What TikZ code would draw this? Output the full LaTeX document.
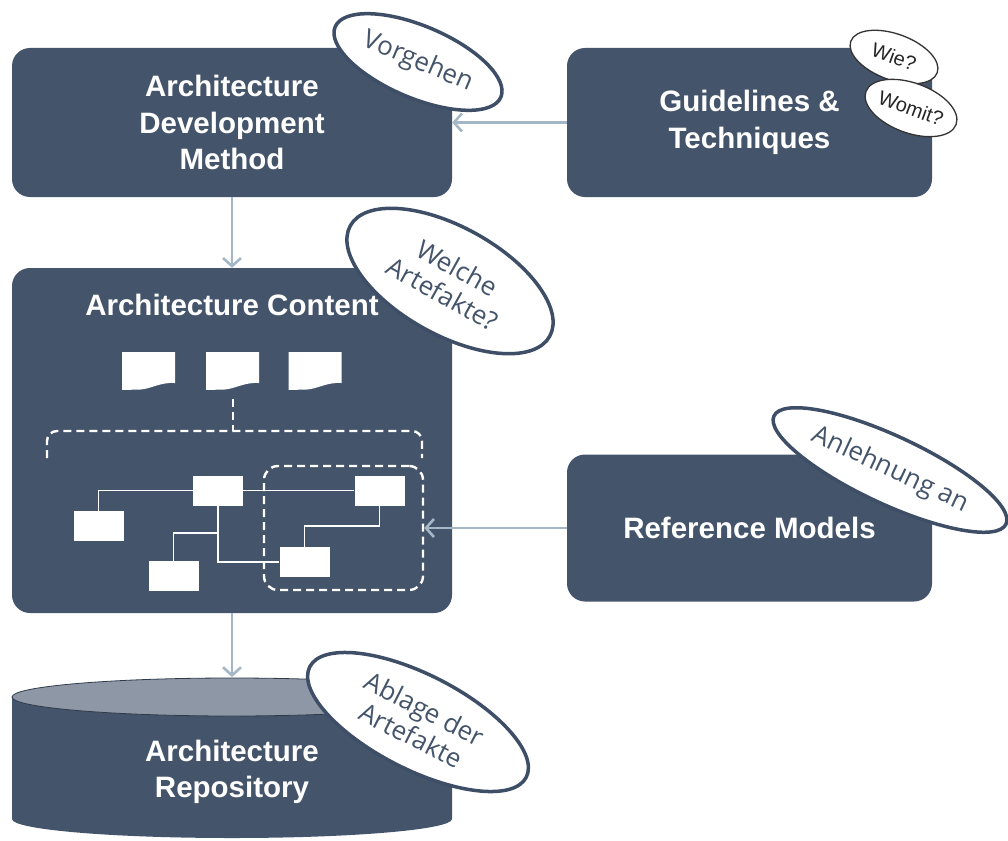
\documentclass[tikz,border=0pt]{standalone}
\usepackage{fontspec}
\setmainfont{Liberation Sans}
\newfontfamily\callfont{Open Sans}
\usetikzlibrary{arrows.meta,shapes.geometric}
\definecolor{slate}{HTML}{44546A}
\definecolor{slatelight}{HTML}{8E97A5}
\definecolor{conncol}{HTML}{A3B7C6}
\definecolor{ovalline}{HTML}{3E4E66}
\begin{document}
\begin{tikzpicture}[x=1pt,y=-1pt,
  box/.style={fill=slate, rounded corners=18pt, text=white, font=\bfseries\fontsize{29.5}{36.5}\selectfont, align=center, inner sep=0pt},
  boxtext/.style={text=white, font=\bfseries\fontsize{29.5}{36.5}\selectfont, align=center, inner sep=0pt},
  conn/.style={draw=conncol, line width=2.6pt, -{Straight Barb[length=8pt,width=18pt,line width=2.6pt]}},
  dashline/.style={draw=white, line width=2.4pt, dash pattern=on 8pt off 5pt},
  elem/.style={fill=white, minimum width=50pt, minimum height=30pt, inner sep=0pt},
  wire/.style={draw=white, line width=1.8pt},
  callout/.style={ellipse, draw=ovalline, line width=3.5pt, fill=white, text=slate, font=\callfont\fontsize{26}{30}\selectfont, align=center, inner sep=0pt},
  smallcall/.style={ellipse, draw=black!80, line width=1.3pt, fill=white, text=black!85, font=\fontsize{20}{22}\selectfont, inner sep=0pt},
  docpic/.pic={\fill[white] (-26.5,-19) -- (26.5,-19) -- (26.5,12) .. controls (12,11) and (2,18) .. (-8,18.5) -- (-26.5,19) -- cycle;}
]
\fill[white] (0,0) rectangle (1008,840);
\useasboundingbox (0,0) rectangle (1008,840);

% main boxes
\node[box, minimum width=440pt, minimum height=149pt] (adm) at (232,122.5) {Architecture\\Development\\Method};
\node[box, minimum width=365pt, minimum height=149pt] (gt) at (749.5,122.5) {Guidelines \&\\Techniques};
\node[box, minimum width=440pt, minimum height=345pt] (ac) at (232,440.5) {};
\node[boxtext] (actitle) at (232,305) {Architecture Content};
\node[box, minimum width=365pt, minimum height=147pt] (rm) at (749.5,528) {Reference Models};

% repository cylinder
\fill[slate] (12,697) -- (12,819) arc[start angle=180,end angle=0,x radius=220,y radius=19] -- (452,697) -- cycle;
\filldraw[fill=slatelight, draw=slate!70!black, line width=0.8pt] (232,697) ellipse [x radius=220, y radius=19];
\coordinate (repotop) at (232,677);
\node[boxtext] (repo) at (232,772) {Architecture\\Repository};

% documents
\pic at (148.5,371) {docpic};
\pic at (232.5,371) {docpic};
\pic at (315,371) {docpic};
\coordinate (d2b) at (233,399);
\coordinate (brk) at (233,431);
\draw[dashline] (d2b) -- (brk);
\draw[dashline, rounded corners=10pt] (47,458) -- (47,431) -- (422,431) -- (422,458);

% model elements
\node[draw=white, dash pattern=on 8pt off 5pt, line width=2.4pt, rounded corners=14pt, minimum width=159pt, minimum height=124pt] (grp) at (343.5,528) {};
\node[elem] (b1) at (218,490.5) {};
\node[elem] (b2) at (379.5,490.5) {};
\node[elem] (b3) at (98.5,526) {};
\node[elem] (b4) at (173.5,576) {};
\node[elem] (b5) at (304.5,562) {};
\coordinate (j1) at (218,533);
\coordinate (j2) at (379.5,526);
\draw[wire] (b3.north) |- (b1.west);
\draw[wire] (b1.east) -- (b2.west);
\draw[wire] (b1.south) |- (b5.west);
\draw[wire] (j1) -| (b4.north);
\draw[wire] (b2.south) -- (j2) -| (b5.north);

% connectors
\draw[conn] (gt.west) -- (adm.east);
\draw[conn] (adm.south) -- (ac.north);
\draw[conn] (rm.west) -- (grp.east);
\draw[conn] (ac.south) -- (repotop);

% callouts
\node[callout, minimum width=180pt, minimum height=72pt, rotate=-23] (vg) at (418,62) {Vorgehen};
\node[callout, minimum width=228pt, minimum height=108pt, rotate=-29] (wa) at (450,281) {Welche\\Artefakte?};
\node[callout, minimum width=256pt, minimum height=68pt, rotate=-25] (an) at (890,470) {Anlehnung an};
\node[callout, minimum width=243pt, minimum height=95pt, rotate=-27] (ab) at (418,722) {Ablage der\\Artefakte};
\node[smallcall, minimum width=92pt, minimum height=46pt, rotate=-20] (wie) at (894,57) {Wie?};
\node[smallcall, minimum width=96pt, minimum height=50pt, rotate=-20] (wom) at (911,108) {Womit?};
\end{tikzpicture}
\end{document}
